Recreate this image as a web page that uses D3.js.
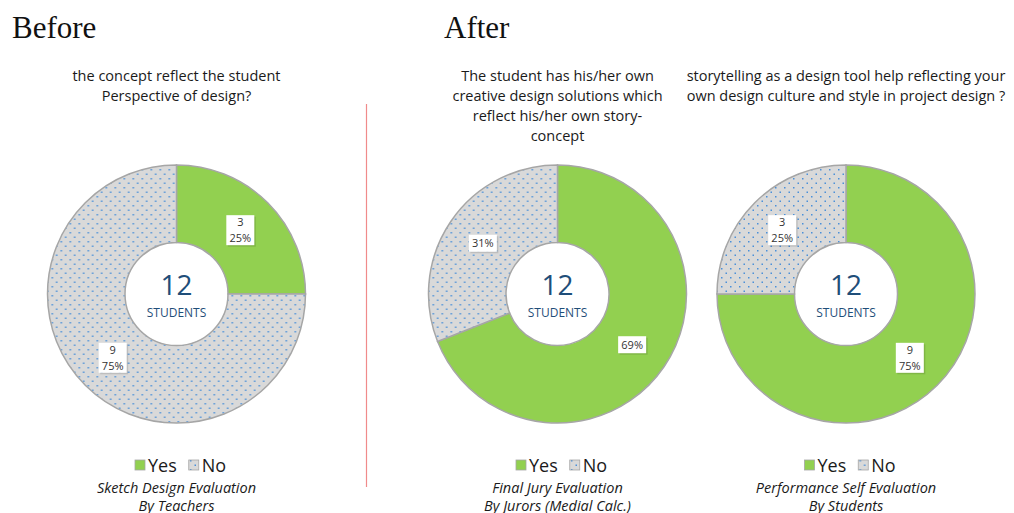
<!DOCTYPE html>
<html>
<head>
<meta charset="utf-8">
<script src="https://cdn.jsdelivr.net/npm/d3@7/dist/d3.min.js"></script>
<style>
  html, body { margin: 0; padding: 0; background: #fff; }
  svg { display: block; }
</style>
</head>
<body>
<svg id="chart" width="1014" height="513"></svg>
<script>
// ── data ───────────────────────────────────────────────────────────────
var categories  = ['Yes', 'No'];
var yesValues   = [3, 69, 9];
var noValues    = [9, 31, 3];
var showCounts  = [true, false, true];
var totals      = [12, 12, 12];
var titles = [
    ['the concept reflect the student', 'Perspective of design?'],
    ['The student has his/her own', 'creative design solutions which', 'reflect his/her own story-', 'concept'],
    ['storytelling as a design tool help reflecting your', 'own design culture and style in project design ?']
];
var captions = [
    ['Sketch Design Evaluation', 'By Teachers'],
    ['Final Jury Evaluation', 'By Jurors (Medial Calc.)'],
    ['Performance Self Evaluation', 'By Students']
];
var headings = ['Before', 'After'];

// ── theme ──────────────────────────────────────────────────────────────
var c = {
    yes:     '#92d050',
    no:      '#d9d9d9',
    dot:     '#4a90d9',
    border:  '#a6a6a6',
    text:    '#1a1a1a',
    label:   '#333333',
    center:  '#1f4e79',
    divider: '#f08b8b'
};
var sans  = "'Open Sans', 'Noto Sans', sans-serif";
var serif = "'Liberation Serif', 'DejaVu Serif', serif";

// ── geometry ───────────────────────────────────────────────────────────
var centersX = [176.5, 557.5, 846];
var cy     = 294;
var outerR = 129;
var innerR = 51.5;
var labelR = (outerR + innerR) / 2;

var svg = d3.select('#chart');
var defs = svg.append('defs');

// dotted fill for the "No" slices
var pat = defs.append('pattern')
    .attr('id', 'dots')
    .attr('patternUnits', 'userSpaceOnUse')
    .attr('width', 9).attr('height', 9);
pat.append('rect').attr('width', 9).attr('height', 9).attr('fill', c.no);
pat.append('rect').attr('x', 1).attr('y', 1).attr('width', 1.5).attr('height', 1.5).attr('fill', c.dot);
pat.append('rect').attr('x', 5.5).attr('y', 5.5).attr('width', 1.5).attr('height', 1.5).attr('fill', c.dot);

var fillFor = { Yes: c.yes, No: 'url(#dots)' };

// ── headings + divider ─────────────────────────────────────────────────
svg.append('text')
    .attr('x', 12).attr('y', 38)
    .attr('font-family', serif)
    .attr('font-size', '31px').attr('fill', '#111')
    .text(headings[0]);
svg.append('text')
    .attr('x', 444).attr('y', 38)
    .attr('font-family', serif)
    .attr('font-size', '31px').attr('fill', '#111')
    .text(headings[1]);

svg.append('line')
    .attr('x1', 366.5).attr('x2', 366.5)
    .attr('y1', 104).attr('y2', 487)
    .attr('stroke', c.divider).attr('stroke-width', 1.2);

// ── donuts ─────────────────────────────────────────────────────────────
var pie = d3.pie().sort(null).value(function (d) { return d.value; });
var arc = d3.arc().innerRadius(innerR).outerRadius(outerR);

yesValues.forEach(function (yv, i) {
    var cx = centersX[i];
    var g = svg.append('g').attr('transform', 'translate(' + cx + ',' + cy + ')');
    var rows = [
        { key: categories[0], value: yv },
        { key: categories[1], value: noValues[i] }
    ];
    var sum = yv + noValues[i];
    var arcs = pie(rows);

    g.selectAll('path.slice').data(arcs).enter().append('path')
        .attr('class', 'slice')
        .attr('d', arc)
        .attr('fill', function (d) { return fillFor[d.data.key]; })
        .attr('stroke', c.border).attr('stroke-width', 1.5);

    // data labels (one text, tspans per line)
    arcs.forEach(function (d) {
        var a = (d.startAngle + d.endAngle) / 2;
        var lx = labelR * Math.sin(a), ly = -labelR * Math.cos(a);
        var pct = Math.round(d.data.value / sum * 100) + '%';
        var lines = showCounts[i] ? [String(d.data.value), pct] : [pct];
        var bw = 28, bh = lines.length === 2 ? 30 : 17;
        var lg = g.append('g').attr('transform', 'translate(' + lx + ',' + ly + ')');
        lg.append('rect')
            .attr('x', -bw / 2 + 1.5).attr('y', -bh / 2 + 1.5)
            .attr('width', bw).attr('height', bh)
            .attr('fill', '#000').attr('opacity', 0.12);
        lg.append('rect')
            .attr('x', -bw / 2).attr('y', -bh / 2)
            .attr('width', bw).attr('height', bh)
            .attr('fill', '#fff');
        var t = lg.append('text')
            .attr('text-anchor', 'middle')
            .attr('font-family', sans).attr('font-size', '11px')
            .attr('fill', c.label);
        lines.forEach(function (s, k) {
            t.append('tspan')
                .attr('x', 0)
                .attr('y', (k - (lines.length - 1) / 2) * 16)
                .attr('dy', '0.36em')
                .text(s);
        });
    });

    // center hole text
    g.append('text')
        .attr('text-anchor', 'middle').attr('y', 1)
        .attr('font-family', sans).attr('font-size', '28px')
        .attr('fill', c.center)
        .text(totals[i]);
    g.append('text')
        .attr('text-anchor', 'middle').attr('y', 23)
        .attr('font-family', sans).attr('font-size', '12px')
        .attr('fill', c.center)
        .text('STUDENTS');

    // title
    titles[i].forEach(function (t, k) {
        svg.append('text')
            .attr('x', cx).attr('y', 81 + k * 20)
            .attr('text-anchor', 'middle')
            .attr('font-family', sans).attr('font-size', '14.5px')
            .attr('fill', c.text)
            .text(t);
    });

    // legend
    var leg = svg.append('g').attr('transform', 'translate(' + (cx - 41.5) + ',459)');
    var lx0 = 0;
    categories.forEach(function (k) {
        leg.append('rect')
            .attr('x', lx0).attr('y', 1)
            .attr('width', 10).attr('height', 10)
            .attr('fill', fillFor[k])
            .attr('stroke', c.border).attr('stroke-width', 0.8);
        var tx = leg.append('text')
            .attr('x', lx0 + 13).attr('y', 12.5)
            .attr('font-family', sans).attr('font-size', '18px')
            .attr('fill', c.text)
            .text(k);
        lx0 += 13 + tx.node().getComputedTextLength() + 12;
    });

    // caption
    captions[i].forEach(function (t, k) {
        svg.append('text')
            .attr('x', cx).attr('y', 493 + k * 17.5)
            .attr('text-anchor', 'middle')
            .attr('font-family', sans).attr('font-size', '14.5px')
            .attr('font-style', 'italic')
            .attr('fill', c.text)
            .text(t);
    });
});
</script>
</body>
</html>
